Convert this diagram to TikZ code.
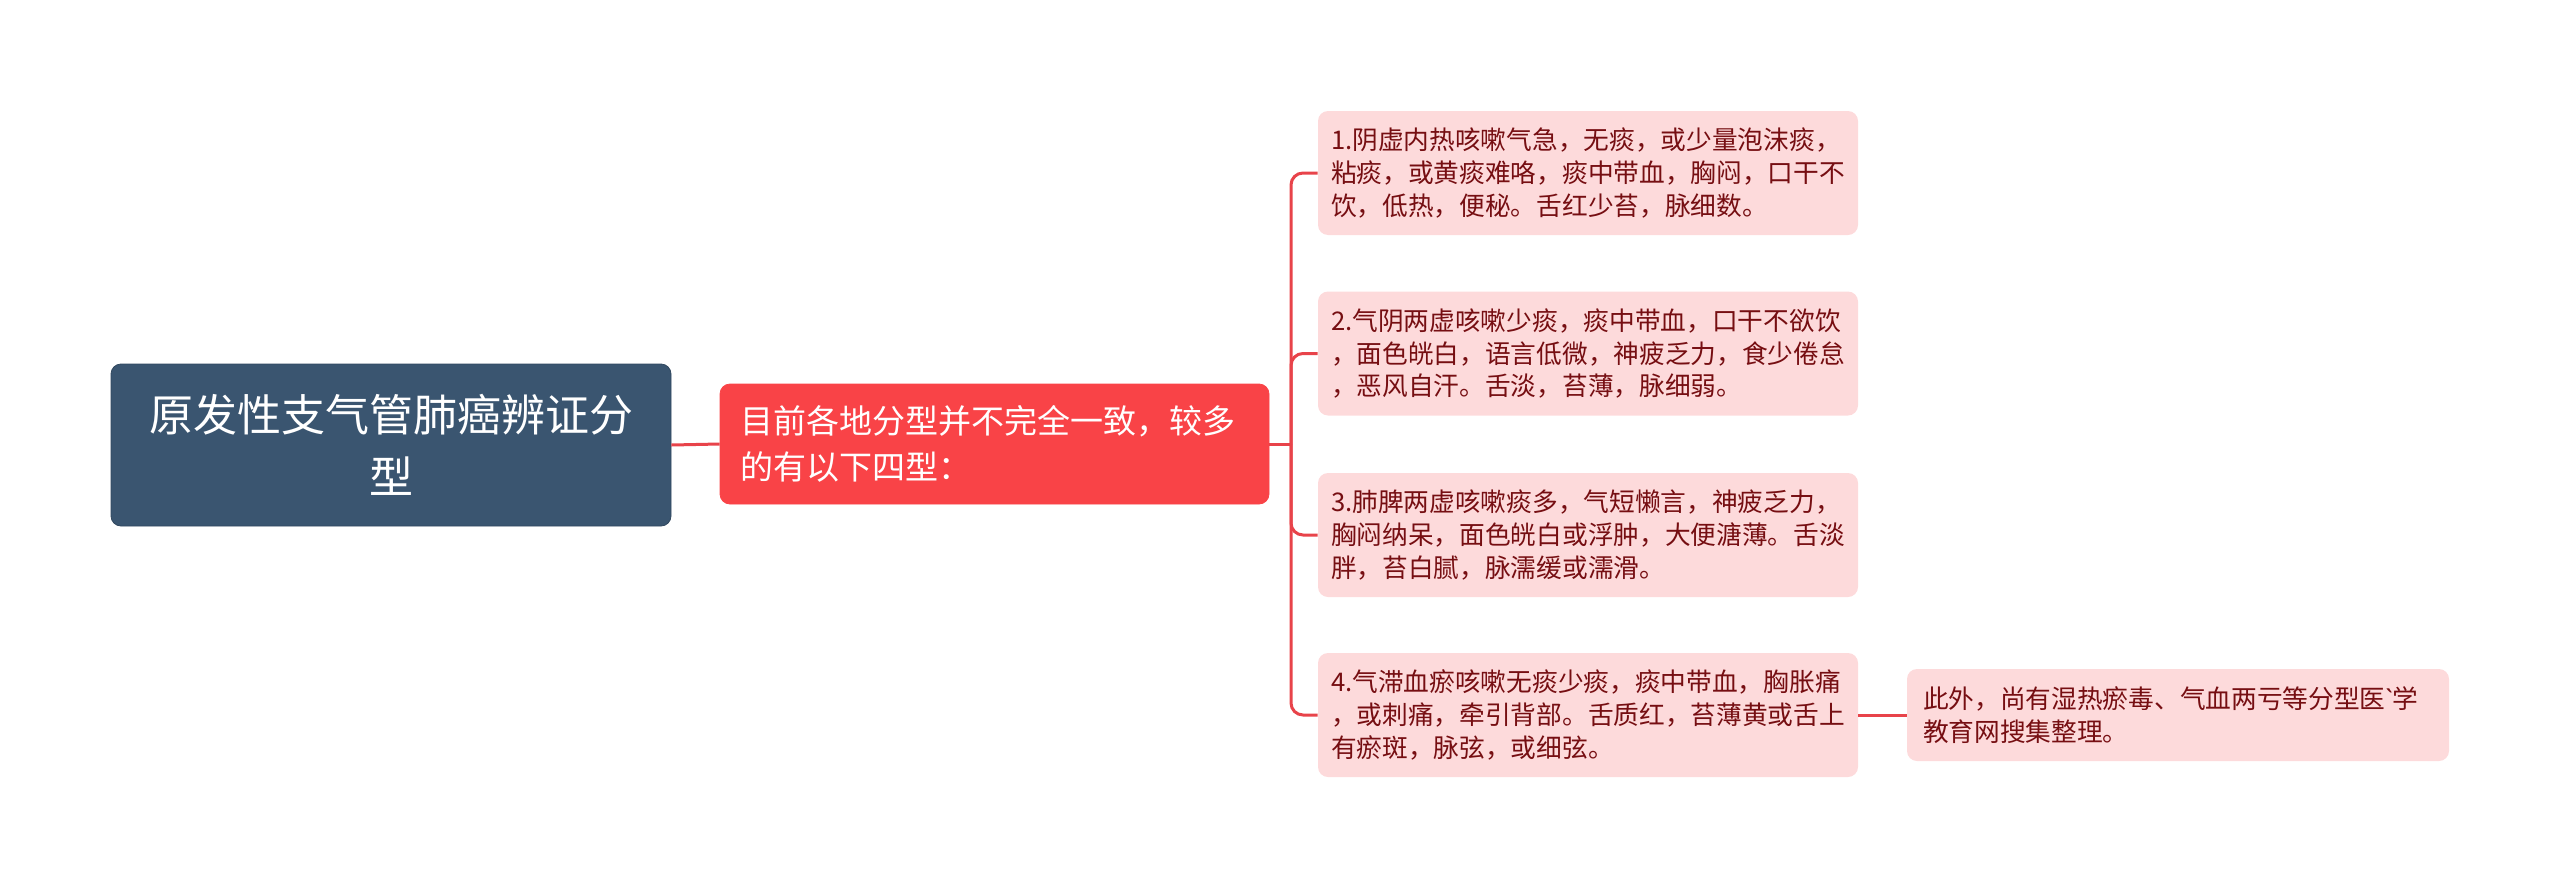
\documentclass[tikz,border=0pt]{standalone}
\usepackage{fontspec}
\setmainfont{Noto Sans CJK SC}
\newfontfamily\latinfont{Noto Sans}
\definecolor{rootblue}{RGB}{58,85,112}
\definecolor{mainred}{RGB}{249,67,71}
\definecolor{leafpink}{RGB}{253,218,219}
\definecolor{leaftext}{RGB}{118,14,18}
\definecolor{linkred}{RGB}{232,67,74}
\begin{document}
\begin{tikzpicture}[x=0.5pt, y=-0.5pt,
    rootbox/.style={draw=rootblue!85!black, fill=rootblue, text=white, rounded corners=5pt, minimum width=280pt, minimum height=81pt, align=center, font=\fontsize{22}{31}\selectfont},
    mainbox/.style={draw=mainred, fill=mainred, text=white, rounded corners=5pt, minimum width=274.5pt, minimum height=60pt, inner xsep=10pt, text width=254.5pt, align=left, font=\fontsize{16.5}{22.9}\selectfont},
    leafbox/.style={draw=none, fill=leafpink, text=leaftext, rounded corners=5pt, minimum height=62pt, inner xsep=6.5pt, text width=257pt, align=left, font=\fontsize{12.85}{16.3}\selectfont},
    link/.style={draw=linkred, line width=1.5pt, rounded corners=6pt}]
  \useasboundingbox (0,0) rectangle (2560,889);

  \node[rootbox] (root) at (391,445) {原发性支气管肺癌辨证分\\型};
  \node[mainbox] (types) at (994.5,444) {目前各地分型并不完全一致，较多\\的有以下四型：};

  \node[leafbox] (yin) at (1588,173) {1.阴虚内热咳嗽气急，无痰，或少量泡沫痰，\\粘痰，或黄痰难咯，痰中带血，胸闷，口干不\\饮，低热，便秘。舌红少苔，脉细数。};
  \node[leafbox] (qiyin) at (1588,353.5) {2.气阴两虚咳嗽少痰，痰中带血，口干不欲饮\\，面色㿠白，语言低微，神疲乏力，食少倦怠\\，恶风自汗。舌淡，苔薄，脉细弱。};
  \node[leafbox] (feipi) at (1588,535) {3.肺脾两虚咳嗽痰多，气短懒言，神疲乏力，\\胸闷纳呆，面色㿠白或浮肿，大便溏薄。舌淡\\胖，苔白腻，脉濡缓或濡滑。};
  \node[leafbox] (qizhi) at (1588,715) {4.气滞血瘀咳嗽无痰少痰，痰中带血，胸胀痛\\，或刺痛，牵引背部。舌质红，苔薄黄或舌上\\有瘀斑，脉弦，或细弦。};
  \node[leafbox, minimum height=46pt, inner xsep=8pt, text width=255pt] (note) at (2178,715) {此外，尚有湿热瘀毒、气血两亏等分型医{\latinfont\symbol{96}}学\\教育网搜集整理。};

  \coordinate (fork) at (1291,444);
  \draw[link] (root.east) -- (types.west);
  \draw[link] (types.east) -- (fork);
  \draw[link] (fork) |- (yin.west);
  \draw[link] (fork) |- (qiyin.west);
  \draw[link] (fork) |- (feipi.west);
  \draw[link] (fork) |- (qizhi.west);
  \draw[link] (qizhi.east) -- (note.west);
\end{tikzpicture}
\end{document}
